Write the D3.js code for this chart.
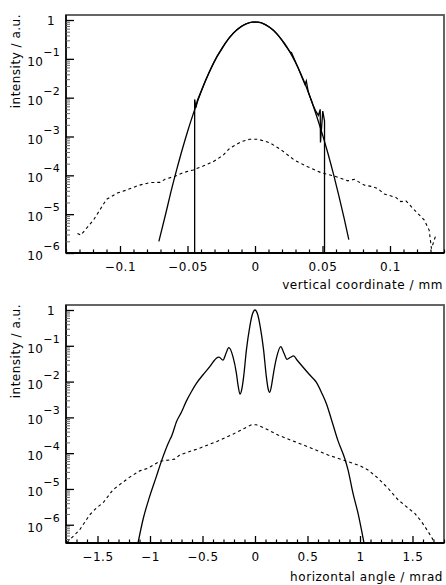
<!DOCTYPE html>
<html lang="en">
<head>
    <meta charset="UTF-8">
    <title>Intensity profiles</title>
    <script src="https://d3js.org/d3.v7.min.js"></script>
    <style>
        body { margin: 0; background: #fff; }
        text { font-family: "DejaVu Sans", sans-serif; fill: #000; }
    </style>
</head>
<body>
    <div id="chart"></div>

    <script>
        // ---- top panel: vertical profile (mm) ----
        const topSimX = [-0.0712, -0.066, -0.062, -0.058, -0.054, -0.050, -0.046, -0.042, -0.038, -0.034, -0.030,
            -0.026, -0.022, -0.018, -0.014, -0.010, -0.006, -0.002, 0.002, 0.006, 0.010, 0.014, 0.018, 0.022,
            0.026, 0.030, 0.034, 0.038, 0.042, 0.046, 0.050, 0.054, 0.058, 0.062, 0.066, 0.0695];
        const topSimY = [2.0e-6, 1.07e-5, 4.1e-5, 1.4e-4, 4.5e-4, 1.33e-3, 3.6e-3, 9.1e-3, 2.1e-2, 4.4e-2, 8.6e-2,
            0.153, 0.253, 0.384, 0.535, 0.687, 0.81, 0.882, 0.886, 0.81, 0.68, 0.528, 0.375, 0.245,
            0.147, 0.0805, 0.0406, 0.0188, 8.0e-3, 3.1e-3, 1.12e-3, 3.7e-4, 1.12e-4, 3.1e-5, 7.9e-6, 2.2e-6];

        const topMeasX = [-0.0447, -0.0447, -0.0437, -0.0427, -0.040, -0.037, -0.034, -0.031, -0.028, -0.025,
            -0.022, -0.019, -0.016, -0.013, -0.010, -0.007, -0.004, -0.001, 0.002, 0.005, 0.008, 0.011, 0.014,
            0.017, 0.020, 0.023, 0.026, 0.027, 0.029, 0.032, 0.035, 0.037, 0.038, 0.0395, 0.041, 0.043, 0.045,
            0.047, 0.0483, 0.0485, 0.0502, 0.0515, 0.0515];
        const topMeasY = [1e-6, 9.0e-3, 5.5e-3, 8.5e-3, 1.45e-2, 2.6e-2, 4.5e-2, 7.5e-2, 0.118, 0.17,
            0.25, 0.35, 0.46, 0.58, 0.69, 0.79, 0.86, 0.89, 0.88, 0.84, 0.75, 0.64, 0.53,
            0.41, 0.30, 0.21, 0.15, 0.145, 0.10, 0.058, 0.032, 0.022, 0.027, 0.014, 0.010, 6.5e-3, 4.5e-3,
            3.5e-3, 5.0e-3, 7.0e-4, 4.5e-3, 2.5e-3, 1e-6];

        const topHaloX = [-0.1315, -0.129, -0.1196, -0.110, -0.102, -0.095, -0.0864, -0.0778, -0.0704, -0.0667,
            -0.0593, -0.0532, -0.0458, -0.0384, -0.031, -0.0236, -0.0187, -0.010, -0.004, 0.0022, 0.011, 0.0195,
            0.0293, 0.039, 0.049, 0.0589, 0.0687, 0.0736, 0.081, 0.086, 0.0908, 0.0958, 0.1044, 0.108, 0.1118,
            0.118, 0.1253, 0.129, 0.1307, 0.134];
        const topHaloY = [3.2e-6, 2.9e-6, 7.1e-6, 2.4e-5, 3.5e-5, 4.2e-5, 5.5e-5, 6.5e-5, 6.6e-5, 7.9e-5,
            9.5e-5, 1.17e-4, 1.38e-4, 1.74e-4, 2.24e-4, 3.3e-4, 5.0e-4, 7.4e-4, 8.5e-4, 8.5e-4, 6.9e-4, 4.5e-4,
            2.45e-4, 1.66e-4, 1.17e-4, 9.5e-5, 7.2e-5, 7.9e-5, 5.6e-5, 5.2e-5, 4.6e-5, 3.3e-5, 2.7e-5, 2.1e-5, 2.2e-5,
            1.29e-5, 7.1e-6, 3.9e-6, 1.3e-6, 2.9e-6];

        // ---- bottom panel: horizontal angle (mrad) ----
        const botSimX = [-1.114, -1.067, -1.003, -0.939, -0.892, -0.812, -0.796, -0.745, -0.70, -0.655, -0.606,
            -0.558, -0.495, -0.431, -0.40, -0.368, -0.343, -0.305, -0.275, -0.25, -0.21, -0.177, -0.162, -0.143,
            -0.125, -0.108, -0.082, -0.05, -0.025, 0, 0.025, 0.05, 0.082, 0.108, 0.125, 0.14, 0.158, 0.171, 0.204,
            0.245, 0.275, 0.305, 0.335, 0.368, 0.40, 0.44, 0.52, 0.585, 0.64, 0.68, 0.727, 0.79, 0.854, 0.886,
            0.933, 0.981, 1.038];
        const botSimY = [3.1e-7, 1.38e-6, 6.2e-6, 2.24e-5, 5.9e-5, 2.34e-4, 2.9e-4, 7.9e-4, 1.41e-3, 2.8e-3, 5.2e-3,
            8.9e-3, 1.55e-2, 2.6e-2, 3.5e-2, 4.5e-2, 4.8e-2, 4.0e-2, 6.3e-2, 8.9e-2, 5.0e-2, 1.7e-2, 8.1e-3, 4.5e-3,
            6.3e-3, 1.38e-2, 7.6e-2, 0.34, 0.76, 1.0, 0.76, 0.34, 7.6e-2, 1.38e-2, 6.3e-3, 5.0e-3, 7.9e-3, 1.38e-2, 4.5e-2,
            9.5e-2, 6.3e-2, 4.2e-2, 4.7e-2, 5.2e-2, 4.0e-2, 2.9e-2, 1.55e-2, 9.5e-3, 4.5e-3, 2.4e-3, 8.9e-4, 2.24e-4, 7.2e-5, 3.4e-5,
            7.6e-6, 2.1e-6, 3.1e-7];

        const botHaloX = [-1.79, -1.67, -1.574, -1.51, -1.447, -1.352, -1.289, -1.193, -1.098, -1.019, -0.908,
            -0.765, -0.717, -0.527, -0.368, -0.21, -0.098, -0.034, 0.013, 0.092, 0.219, 0.378, 0.537, 0.695,
            0.854, 0.997, 1.076, 1.171, 1.267, 1.362, 1.457, 1.52, 1.585, 1.648, 1.711];
        const botHaloY = [3.2e-7, 7.2e-7, 1.9e-6, 2.95e-6, 4.1e-6, 9.5e-6, 1.32e-5, 2.14e-5, 3.2e-5, 3.8e-5, 5.9e-5,
            6.8e-5, 8.9e-5, 1.38e-4, 2.1e-4, 3.4e-4, 5.0e-4, 6.2e-4, 6.2e-4, 5.0e-4, 3.2e-4, 2.1e-4, 1.38e-4, 8.9e-5,
            6.2e-5, 4.5e-5, 3.4e-5, 2.0e-5, 1.05e-5, 5.0e-6, 2.95e-6, 2.1e-6, 1.23e-6, 6.5e-7, 3.2e-7];

        // ---- tick labels ----
        const yTickValues = [1, 1e-1, 1e-2, 1e-3, 1e-4, 1e-5, 1e-6];
        const yTickExponents = ["", "\u22121", "\u22122", "\u22123", "\u22124", "\u22125", "\u22126"];
        const topXTicks = [-0.1, -0.05, 0, 0.05, 0.1];
        const topXLabels = ["\u22120.1", "\u22120.05", "0", "0.05", "0.1"];
        const botXTicks = [-1.5, -1, -0.5, 0, 0.5, 1, 1.5];
        const botXLabels = ["\u22121.5", "\u22121", "\u22120.5", "0", "0.5", "1", "1.5"];
        const yTitle = "intensity / a.u.";

        var width = 446, height = 585;
        var svg = d3.select("#chart").append("svg")
            .attr("width", width)
            .attr("height", height);

        svg.append("rect").attr("width", width).attr("height", height).attr("fill", "#fff");

        function drawPanel(cfg) {
            var left = 66, right = 444;
            var x = d3.scaleLinear().domain(cfg.xDomain).range([left, right]);
            var y = d3.scaleLog().domain(cfg.yDomain).range([cfg.bottom, cfg.top]);

            var g = svg.append("g");

            g.append("clipPath").attr("id", cfg.id)
                .append("rect")
                .attr("x", left).attr("y", cfg.top)
                .attr("width", right - left).attr("height", cfg.bottom - cfg.top);

            var plot = g.append("g").attr("clip-path", "url(#" + cfg.id + ")");
            var line = d3.line().x(function(d) { return x(d[0]); }).y(function(d) { return y(d[1]); });

            cfg.series.forEach(function(s) {
                var l = s.smooth ? line.curve(d3.curveMonotoneX) : line.curve(d3.curveLinear);
                plot.append("path")
                    .datum(d3.zip(s.x, s.y))
                    .attr("d", l)
                    .attr("fill", "none")
                    .attr("stroke", "#000")
                    .attr("stroke-width", s.dashed ? 1.1 : 1.3)
                    .attr("stroke-dasharray", s.dashed ? "3,3" : null);
            });

            // frame
            g.append("rect")
                .attr("x", left).attr("y", cfg.top)
                .attr("width", right - left).attr("height", cfg.bottom - cfg.top)
                .attr("fill", "none").attr("stroke", "#555").attr("stroke-width", 1.8);

            // x minor ticks
            var minorX = x.ticks(cfg.minorCount).filter(function(v) {
                return !cfg.xTicks.some(function(t) { return Math.abs(t - v) < 1e-9; });
            });
            g.append("g")
                .attr("transform", "translate(0," + cfg.bottom + ")")
                .call(d3.axisBottom(x).tickValues(minorX).tickSizeInner(-3.5).tickSizeOuter(0).tickFormat(""))
                .call(function(a) { a.select(".domain").remove(); })
                .selectAll("line").attr("stroke-width", 1.2);

            // x major ticks
            var ax = g.append("g")
                .attr("transform", "translate(0," + cfg.bottom + ")")
                .call(d3.axisBottom(x).tickValues(cfg.xTicks).tickSizeInner(-7).tickSizeOuter(0).tickPadding(9.5)
                    .tickFormat(function(d, i) { return cfg.xLabels[i]; }));
            ax.select(".domain").remove();
            ax.selectAll("line").attr("stroke-width", 1.3);
            ax.selectAll("text").attr("font-size", 12).style("letter-spacing", "0.6px")
                .attr("font-family", "DejaVu Sans");

            g.append("line")
                .attr("x1", left).attr("x2", right)
                .attr("y1", cfg.bottom).attr("y2", cfg.bottom)
                .attr("stroke", "#000").attr("stroke-width", 1.8);
            g.append("line")
                .attr("x1", left).attr("x2", left)
                .attr("y1", cfg.top).attr("y2", cfg.bottom)
                .attr("stroke", "#000").attr("stroke-width", 1.5);

            // y minor ticks (log)
            var minorY = [];
            for (var k = -7; k <= 0; k++) {
                for (var m = 2; m <= 9; m++) {
                    var v = m * Math.pow(10, k);
                    if (v > cfg.yDomain[0] && v < cfg.yDomain[1]) minorY.push(v);
                }
            }
            g.append("g")
                .attr("transform", "translate(" + left + ",0)")
                .call(d3.axisLeft(y).tickValues(minorY).tickSizeInner(-4).tickSizeOuter(0).tickFormat(""))
                .call(function(a) { a.select(".domain").remove(); })
                .selectAll("line").attr("stroke", "#666");

            // y major ticks
            var ay = g.append("g")
                .attr("transform", "translate(" + left + ",0)")
                .call(d3.axisLeft(y).tickValues(yTickValues).tickSizeInner(-8).tickSizeOuter(0).tickPadding(6)
                    .tickFormat(""));
            ay.select(".domain").remove();
            ay.selectAll("line").attr("stroke-width", 1.3);
            ay.selectAll(".tick text").each(function(d, i) {
                var t = d3.select(this).attr("dy", null).attr("font-size", 12)
                    .attr("font-family", "DejaVu Sans").style("letter-spacing", "0.3px");
                if (yTickExponents[i] === "") {
                    t.attr("x", -11).attr("y", 4.5).text("1");
                } else {
                    t.attr("x", -6).attr("y", 6.5);
                    t.append("tspan").text("10");
                    t.append("tspan").attr("dy", -10).attr("font-size", 11).text(yTickExponents[i]);
                }
            });

            // axis titles
            g.append("text")
                .attr("transform", "translate(20," + (cfg.top - 1) + ") rotate(-90)")
                .attr("text-anchor", "end")
                .attr("font-size", 12)
                .style("letter-spacing", "0.5px")
                .text(yTitle);

            g.append("text")
                .attr("x", 443)
                .attr("y", cfg.titleY)
                .attr("text-anchor", "end")
                .attr("font-size", 12)
                .style("letter-spacing", "0.55px")
                .text(cfg.xTitle);
        }

        drawPanel({
            id: "clipTop", top: 15, bottom: 253,
            xDomain: [-0.14, 0.14], yDomain: [1e-6, 1.346],
            xTicks: topXTicks, xLabels: topXLabels, minorCount: 28,
            xTitle: "vertical coordinate / mm", titleY: 289,
            series: [
                { x: topSimX, y: topSimY, smooth: true },
                { x: topMeasX, y: topMeasY },
                { x: topHaloX, y: topHaloY, dashed: true }
            ]
        });

        drawPanel({
            id: "clipBot", top: 305, bottom: 543,
            xDomain: [-1.8, 1.8], yDomain: [3.09e-7, 1.38],
            xTicks: botXTicks, xLabels: botXLabels, minorCount: 36,
            xTitle: "horizontal angle / mrad", titleY: 581,
            series: [
                { x: botSimX, y: botSimY, smooth: true },
                { x: botHaloX, y: botHaloY, dashed: true }
            ]
        });
    </script>
</body>
</html>
